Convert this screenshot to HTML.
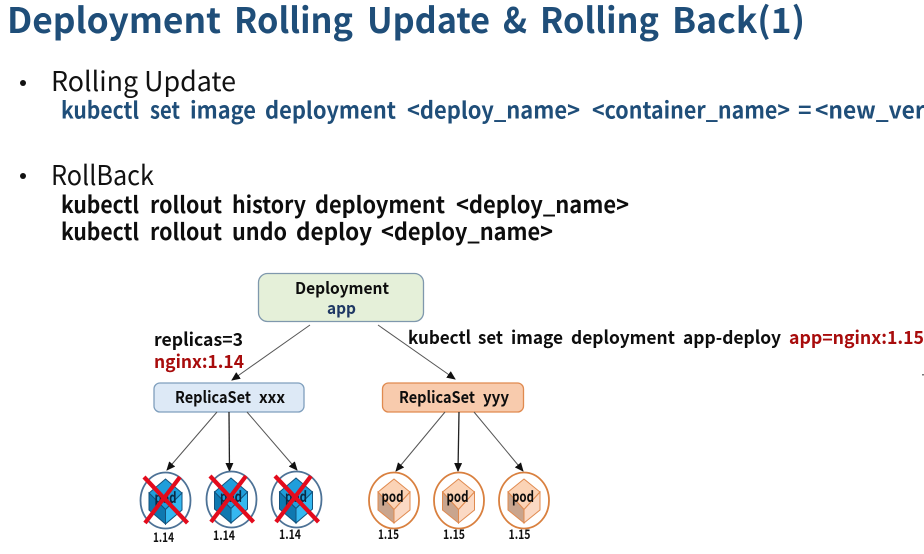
<!DOCTYPE html>
<html>
<head>
<meta charset="utf-8">
<style>
html,body{margin:0;padding:0;background:#fff;width:924px;height:554px;overflow:hidden}
svg{display:block}
text{font-family:"Noto Sans CJK KR","Liberation Sans",sans-serif}
.b{font-weight:bold}
.n{fill:#1f4e79}
.k{fill:#0d0d0d}
.r{fill:#a80c0c}
</style>
</head>
<body>
<svg width="924" height="554" viewBox="0 0 924 554" xmlns="http://www.w3.org/2000/svg">
<defs>
<marker id="ah" markerWidth="10" markerHeight="10" refX="8" refY="4" orient="auto" markerUnits="userSpaceOnUse">
<path d="M0,0 L9,4 L0,8 Z" fill="#111"/>
</marker>
<g id="bcube">
<path d="M0,-22 L16.500,-8 L0,8.500 L-16.500,-8 Z" fill="#1f9edb" stroke="#14527c" stroke-width="1"/>
<path d="M-16.500,-8 L0,8.500 L0,23 L-16.500,9 Z" fill="#0f78b0" stroke="#14527c" stroke-width="1"/>
<path d="M16.500,-8 L0,8.500 L0,23 L16.500,9 Z" fill="#35b8f0" stroke="#14527c" stroke-width="1"/>
</g>
<g id="ocube">
<path d="M0,-22 L16,-9 L0,8.500 L-16,-9 Z" fill="#fbd3b6" stroke="#e08a4f" stroke-width="1"/>
<path d="M-16,-9 L0,8.500 L0,22 L-16,9 Z" fill="#c9a58e" stroke="#e08a4f" stroke-width="1"/>
<path d="M16,-9 L0,8.500 L0,22 L16,9 Z" fill="#fbd9c4" stroke="#e08a4f" stroke-width="1"/>
</g>
<g id="x">
<path d="M-21.500,-23 L22,23 M14.500,-23 L-20.500,23" stroke="#e30b1c" stroke-width="4.200" fill="none"/>
</g>
</defs>

<g class="b n" font-size="35">
<text x="7" y="33" textLength="214" lengthAdjust="spacingAndGlyphs">Deployment</text>
<text x="234" y="33" textLength="119" lengthAdjust="spacingAndGlyphs">Rolling</text>
<text x="367" y="33" textLength="123" lengthAdjust="spacingAndGlyphs">Update</text>
<text x="503" y="33" textLength="24" lengthAdjust="spacingAndGlyphs">&amp;</text>
<text x="540" y="33" textLength="119" lengthAdjust="spacingAndGlyphs">Rolling</text>
<text x="672" y="33" textLength="133" lengthAdjust="spacingAndGlyphs">Back(1)</text>
</g>

<circle cx="23" cy="83" r="3" fill="#111"/>
<text x="51" y="91" font-size="27" fill="#111" textLength="185" lengthAdjust="spacingAndGlyphs">Rolling Update</text>
<g class="b n" font-size="23">
<text x="61" y="118.500" textLength="78" lengthAdjust="spacingAndGlyphs">kubectl</text>
<text x="150" y="118.500" textLength="30" lengthAdjust="spacingAndGlyphs">set</text>
<text x="190" y="118.500" textLength="66" lengthAdjust="spacingAndGlyphs">image</text>
<text x="265" y="118.500" textLength="131" lengthAdjust="spacingAndGlyphs">deployment</text>
<text x="407" y="118.500" textLength="173" lengthAdjust="spacingAndGlyphs">&lt;deploy_name&gt;</text>
<text x="592" y="118.500" textLength="198" lengthAdjust="spacingAndGlyphs">&lt;container_name&gt;</text>
<text x="798" y="118.500">=</text>
<text x="815" y="118.500" textLength="170" lengthAdjust="spacingAndGlyphs">&lt;new_version&gt;</text>
</g>

<circle cx="23" cy="176" r="3" fill="#111"/>
<text x="51" y="185" font-size="27" fill="#111" textLength="103" lengthAdjust="spacingAndGlyphs">RollBack</text>
<g class="b k" font-size="23">
<text x="61" y="213" textLength="78" lengthAdjust="spacingAndGlyphs">kubectl</text>
<text x="150" y="213" textLength="72" lengthAdjust="spacingAndGlyphs">rollout</text>
<text x="232" y="213" textLength="74" lengthAdjust="spacingAndGlyphs">history</text>
<text x="315" y="213" textLength="130" lengthAdjust="spacingAndGlyphs">deployment</text>
<text x="456" y="213" textLength="173" lengthAdjust="spacingAndGlyphs">&lt;deploy_name&gt;</text>
<text x="61" y="240" textLength="78" lengthAdjust="spacingAndGlyphs">kubectl</text>
<text x="150" y="240" textLength="72" lengthAdjust="spacingAndGlyphs">rollout</text>
<text x="232" y="240" textLength="55" lengthAdjust="spacingAndGlyphs">undo</text>
<text x="296" y="240" textLength="76" lengthAdjust="spacingAndGlyphs">deploy</text>
<text x="381" y="240" textLength="172" lengthAdjust="spacingAndGlyphs">&lt;deploy_name&gt;</text>
</g>

<rect x="258.500" y="273.500" width="165" height="48" rx="9" fill="#e5f0d9" stroke="#7f98ad" stroke-width="1.300"/>
<text x="295" y="294" class="b k" font-size="16" textLength="94" lengthAdjust="spacingAndGlyphs">Deployment</text>
<text x="327" y="314" class="b" fill="#1f3864" font-size="16" textLength="29" lengthAdjust="spacingAndGlyphs">app</text>

<rect x="154" y="383" width="150" height="29" rx="6" fill="#dde9f6" stroke="#7f9fbd" stroke-width="1.300"/>
<text x="175" y="403" class="b k" font-size="16" textLength="76" lengthAdjust="spacingAndGlyphs">ReplicaSet</text>
<text x="259" y="403" class="b k" font-size="16" textLength="26" lengthAdjust="spacingAndGlyphs">xxx</text>
<rect x="382.500" y="383" width="141" height="29" rx="6" fill="#f8cbad" stroke="#e08a4f" stroke-width="1.300"/>
<text x="399" y="403" class="b k" font-size="16" textLength="76" lengthAdjust="spacingAndGlyphs">ReplicaSet</text>
<text x="483" y="403" class="b k" font-size="16" textLength="26" lengthAdjust="spacingAndGlyphs">yyy</text>

<g stroke="#555" stroke-width="1" fill="none">
<line x1="310" y1="325" x2="232" y2="380" marker-end="url(#ah)"/>
<line x1="378" y1="325" x2="455" y2="379" marker-end="url(#ah)"/>
<line x1="217" y1="412" x2="167" y2="470" marker-end="url(#ah)"/>
<line x1="229" y1="412" x2="229.500" y2="471" stroke="#222" stroke-width="1.300" marker-end="url(#ah)"/>
<line x1="247" y1="412" x2="297" y2="470" marker-end="url(#ah)"/>
<line x1="445" y1="412" x2="396" y2="471" marker-end="url(#ah)"/>
<line x1="459" y1="412" x2="458" y2="471" stroke="#222" stroke-width="1.300" marker-end="url(#ah)"/>
<line x1="474" y1="412" x2="523" y2="471" marker-end="url(#ah)"/>
</g>

<text x="154" y="346" class="b k" font-size="18" textLength="89" lengthAdjust="spacingAndGlyphs">replicas=3</text>
<text x="154" y="368" class="b r" font-size="18" textLength="90" lengthAdjust="spacingAndGlyphs">nginx:1.14</text>
<g class="b k" font-size="18">
<text x="408" y="344" textLength="63" lengthAdjust="spacingAndGlyphs">kubectl</text>
<text x="478" y="344" textLength="25" lengthAdjust="spacingAndGlyphs">set</text>
<text x="511" y="344" textLength="52" lengthAdjust="spacingAndGlyphs">image</text>
<text x="571" y="344" textLength="104" lengthAdjust="spacingAndGlyphs">deployment</text>
<text x="683" y="344" textLength="98" lengthAdjust="spacingAndGlyphs">app-deploy</text>
</g>
<text x="789" y="344" class="b r" font-size="18" textLength="135" lengthAdjust="spacingAndGlyphs">app=nginx:1.15</text>

<!-- blue pods -->
<ellipse cx="165.500" cy="500.500" rx="25" ry="28" fill="#fff" stroke="#4d7296" stroke-width="1.800"/>
<use href="#bcube" x="165.500" y="501"/>
<text x="154.500" y="503" class="b" fill="#0b2a45" font-size="15" textLength="22" lengthAdjust="spacingAndGlyphs">pod</text>
<use href="#x" x="165.500" y="500"/>
<ellipse cx="231.500" cy="499.500" rx="25" ry="28" fill="#fff" stroke="#4d7296" stroke-width="1.800"/>
<use href="#bcube" x="231" y="500"/>
<text x="220" y="502" class="b" fill="#0b2a45" font-size="15" textLength="22" lengthAdjust="spacingAndGlyphs">pod</text>
<use href="#x" x="231.500" y="499"/>
<ellipse cx="296.500" cy="499.500" rx="25" ry="28" fill="#fff" stroke="#4d7296" stroke-width="1.800"/>
<use href="#bcube" x="296" y="500"/>
<text x="285" y="502" class="b" fill="#0b2a45" font-size="15" textLength="22" lengthAdjust="spacingAndGlyphs">pod</text>
<use href="#x" x="296.500" y="499"/>

<!-- orange pods -->
<ellipse cx="394" cy="500.500" rx="25" ry="28" fill="#fff" stroke="#d9803f" stroke-width="1.800"/>
<use href="#ocube" x="394" y="501"/>
<text x="381.500" y="502" class="b k" font-size="15" textLength="22" lengthAdjust="spacingAndGlyphs">pod</text>
<ellipse cx="459" cy="500.500" rx="25" ry="28" fill="#fff" stroke="#d9803f" stroke-width="1.800"/>
<use href="#ocube" x="458.500" y="501"/>
<text x="446.500" y="502" class="b k" font-size="15" textLength="22" lengthAdjust="spacingAndGlyphs">pod</text>
<ellipse cx="524" cy="500.500" rx="25" ry="28" fill="#fff" stroke="#d9803f" stroke-width="1.800"/>
<use href="#ocube" x="524" y="501"/>
<text x="512" y="502" class="b k" font-size="15" textLength="22" lengthAdjust="spacingAndGlyphs">pod</text>

<g font-size="13" font-weight="bold" fill="#111">
<text x="153" y="542" textLength="21" lengthAdjust="spacingAndGlyphs">1.14</text>
<text x="213" y="540" textLength="22" lengthAdjust="spacingAndGlyphs">1.14</text>
<text x="279" y="539" textLength="22" lengthAdjust="spacingAndGlyphs">1.14</text>
<text x="378" y="539" textLength="21" lengthAdjust="spacingAndGlyphs">1.15</text>
<text x="443" y="539" textLength="22" lengthAdjust="spacingAndGlyphs">1.15</text>
<text x="508.500" y="539" textLength="22" lengthAdjust="spacingAndGlyphs">1.15</text>
</g>

<rect x="922" y="374" width="2" height="1.500" fill="#777"/>
</svg>
</body>
</html>
